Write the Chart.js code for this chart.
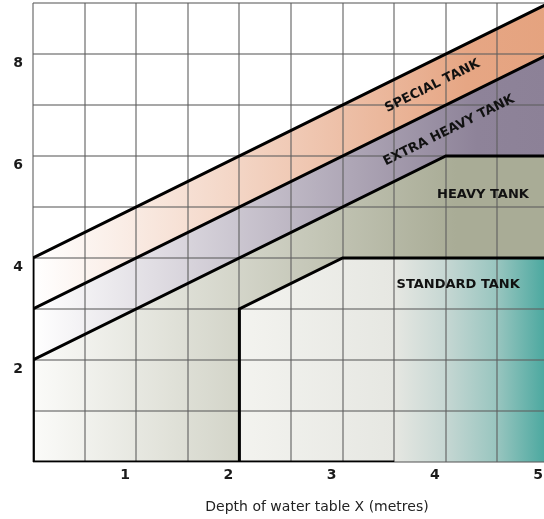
<!DOCTYPE html>
<html>
<head>
<meta charset="utf-8">
<script src="https://cdn.jsdelivr.net/npm/chart.js@4"></script>
<style>
  html, body { margin: 0; padding: 0; overflow: hidden; background: #fff; }
  canvas { display: block; }
</style>
</head>
<body>
<canvas id="chartTanks" width="549" height="519"></canvas>
<script>
// === Data: tank class boundaries (depth X in metres, height in metres) ===
const tankNames = ['STANDARD TANK', 'HEAVY TANK', 'EXTRA HEAVY TANK', 'SPECIAL TANK'];

const standardX = [2, 2, 3, 5];
const standardY = [0, 3, 4, 4];

const heavyX = [0, 0, 4, 5];
const heavyY = [0, 2, 6, 6];

const extraHeavyX = [0, 0, 5];
const extraHeavyY = [0, 3, 8];

const specialX = [0, 0, 5];
const specialY = [0, 4, 9];

const bottomEdgeX = [0, 3.5];
const bottomEdgeY = [0, 0];

const xTickLabels = [1, 2, 3, 4, 5];
const yTickLabels = [2, 4, 6, 8];
const xTitle = 'Depth of water table X (metres)';

const toPoints = (xs, ys) => xs.map((x, i) => ({ x: x, y: ys[i] }));

// horizontal gradient, stops given in x-axis values
function bandGradient(stops) {
  return (c) => {
    const chart = c.chart;
    const xs = chart.scales && chart.scales.x;
    if (!chart.chartArea || !xs) return stops[stops.length - 1][1];
    const v0 = stops[0][0];
    const v1 = stops[stops.length - 1][0];
    const g = chart.ctx.createLinearGradient(xs.getPixelForValue(v0), 0, xs.getPixelForValue(v1), 0);
    stops.forEach(([v, col]) => g.addColorStop((v - v0) / (v1 - v0), col));
    return g;
  };
}

const lineStyle = { borderColor: '#000', borderWidth: 3, pointRadius: 0, tension: 0 };
const gridStyle = { color: 'rgba(95,95,95,0.55)', lineWidth: 2, drawTicks: false };

// names + axis title drawn on top
const tankLabels = {
  id: 'tankLabels',
  afterDatasetsDraw(chart) {
    const { ctx, scales: { x, y } } = chart;
    const slope = Math.atan2(y.getPixelForValue(1) - y.getPixelForValue(0),
                             x.getPixelForValue(1) - x.getPixelForValue(0));
    const spots = [[4.12, 3.47, 0], [4.36, 5.25, 0], [4.03, 6.5, slope], [3.87, 7.37, slope]];
    ctx.save();
    ctx.font = 'bold 13px "DejaVu Sans"';
    ctx.fillStyle = '#111';
    ctx.textAlign = 'center';
    ctx.textBaseline = 'middle';
    tankNames.forEach((name, i) => {
      const [vx, vy, rot] = spots[i];
      ctx.save();
      ctx.translate(x.getPixelForValue(vx), y.getPixelForValue(vy));
      ctx.rotate(rot);
      ctx.fillText(name, 0, 0);
      ctx.restore();
    });
    ctx.font = '14px "DejaVu Sans"';
    ctx.fillStyle = '#222';
    ctx.textBaseline = 'alphabetic';
    ctx.fillText(xTitle, 317, 511);
    ctx.restore();
  }
};

const tanksCtx = document.getElementById('chartTanks');
new Chart(tanksCtx, {
  type: 'line',
  data: {
    datasets: [
      { label: 'edge', data: toPoints(bottomEdgeX, bottomEdgeY), fill: false, ...lineStyle },
      {
        label: tankNames[0], data: toPoints(standardX, standardY), fill: 'origin', ...lineStyle,
        backgroundColor: bandGradient([[2, '#f3f3ef'], [3.5, '#e6e7e2'], [4, '#c6d7d3'], [4.5, '#98c5bf'], [5, '#45a69d']])
      },
      {
        label: tankNames[1], data: toPoints(heavyX, heavyY), fill: 'origin', ...lineStyle,
        backgroundColor: bandGradient([[0, '#fbfbf9'], [4.1, '#a9ac96'], [5, '#a9ac96']])
      },
      {
        label: tankNames[2], data: toPoints(extraHeavyX, extraHeavyY), fill: 'origin', ...lineStyle,
        backgroundColor: bandGradient([[0, '#ffffff'], [4.3, '#8e8399'], [5, '#8c8197']])
      },
      {
        label: tankNames[3], data: toPoints(specialX, specialY), fill: 'origin', ...lineStyle,
        backgroundColor: bandGradient([[0, '#ffffff'], [4.2, '#e6a684'], [5, '#e5a37f']])
      }
    ]
  },
  options: {
    responsive: false,
    animation: false,
    events: [],
    layout: { padding: { top: 3, right: 0, left: 0, bottom: 0 } },
    scales: {
      x: {
        type: 'linear',
        min: 0,
        max: 5,
        grid: gridStyle,
        border: { display: false },
        ticks: {
          stepSize: 0.5,
          autoSkip: false,
          maxRotation: 0,
          padding: 5,
          labelOffset: -11,
          color: '#1a1a1a',
          font: { family: 'DejaVu Sans', size: 14, weight: 'bold' },
          callback: (v) => (xTickLabels.includes(v) ? String(v) : '')
        },
        afterFit(s) { s.height = 57; s.paddingLeft = 0; s.paddingRight = 0; }
      },
      y: {
        min: 0,
        max: 9,
        grid: gridStyle,
        border: { display: false },
        ticks: {
          stepSize: 1,
          autoSkip: false,
          padding: 10,
          labelOffset: 9,
          color: '#1a1a1a',
          font: { family: 'DejaVu Sans', size: 14, weight: 'bold' },
          callback: (v) => (yTickLabels.includes(v) ? String(v) : '')
        },
        afterFit(s) { s.width = 33; s.paddingTop = 0; s.paddingBottom = 0; }
      }
    },
    plugins: {
      legend: { display: false },
      tooltip: { enabled: false },
      filler: { drawTime: 'beforeDraw' }
    }
  },
  plugins: [tankLabels]
});
</script>
</body>
</html>
